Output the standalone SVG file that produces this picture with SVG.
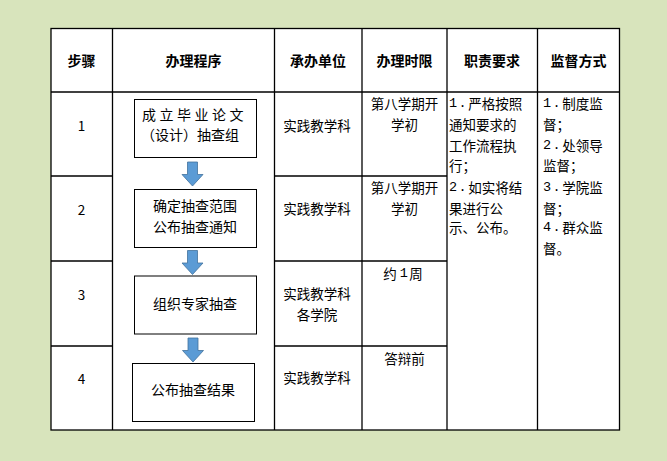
<svg xmlns="http://www.w3.org/2000/svg" xmlns:xlink="http://www.w3.org/1999/xlink" width="667" height="461" viewBox="0 0 667 461">
<style>
.t{font-family:"Noto Sans CJK SC","Noto Sans",sans-serif;font-size:13.5px;fill:#000;dominant-baseline:central}
.h{font-weight:bold;font-size:14px;text-anchor:middle}
.c{text-anchor:middle}
.m{font-family:"Liberation Mono",monospace;letter-spacing:1.5px}
.grid{stroke:#000;stroke-width:1.3;fill:none}
.box{fill:#fff;stroke:#000;stroke-width:1}
.arr{fill:#5b9bd5;stroke:#41719c;stroke-width:0.8}
</style>
<defs>
<path id="dn" d="M-5,0 H5 V12.5 H10.5 L0,24 L-10.5,12.5 H-5 Z"/>
</defs>
<rect x="0" y="0" width="667" height="461" fill="#d8e4bc"/>
<g id="table">
<rect x="51" y="28.5" width="568.5" height="401.5" fill="#fff"/>
<g class="grid">
<rect x="51" y="28.5" width="568.5" height="401.5"/>
<line x1="51" y1="92" x2="619.5" y2="92"/>
<line x1="112.5" y1="28.5" x2="112.5" y2="430"/>
<line x1="274.5" y1="28.5" x2="274.5" y2="430"/>
<line x1="362" y1="28.5" x2="362" y2="430"/>
<line x1="447" y1="28.5" x2="447" y2="430"/>
<line x1="537.5" y1="28.5" x2="537.5" y2="430"/>
<line x1="51" y1="176" x2="112.5" y2="176"/>
<line x1="274.5" y1="176" x2="447" y2="176"/>
<line x1="51" y1="261" x2="112.5" y2="261"/>
<line x1="274.5" y1="261" x2="447" y2="261"/>
<line x1="51" y1="346" x2="112.5" y2="346"/>
<line x1="274.5" y1="346" x2="447" y2="346"/>
</g>
<g id="header">
<text class="t h" x="81.5" y="60">步骤</text>
<text class="t h" x="193.5" y="60">办理程序</text>
<text class="t h" x="318" y="60">承办单位</text>
<text class="t h" x="404.5" y="60">办理时限</text>
<text class="t h" x="492" y="60">职责要求</text>
<text class="t h" x="578.5" y="60">监督方式</text>
</g>
<g id="steps">
<text class="t c" x="81.5" y="125">1</text>
<text class="t c" x="81.5" y="209">2</text>
<text class="t c" x="81.5" y="294">3</text>
<text class="t c" x="81.5" y="378">4</text>
</g>
<g id="units">
<text class="t c" x="317" y="124.5">实践教学科</text>
<text class="t c" x="317" y="208">实践教学科</text>
<text class="t c" x="317" y="293">实践教学科</text>
<text class="t c" x="317" y="313.5">各学院</text>
<text class="t c" x="317" y="377">实践教学科</text>
</g>
<g id="limits">
<text class="t c" x="404.5" y="102.5">第八学期开</text>
<text class="t c" x="404.5" y="124">学初</text>
<text class="t c" x="404.5" y="187">第八学期开</text>
<text class="t c" x="404.5" y="208">学初</text>
<text class="t c" x="403" y="272.5">约 <tspan class="m">1</tspan>周</text>
<text class="t c" x="404.5" y="357.5">答辩前</text>
</g>
<g id="duties">
<text class="t" x="449" y="102.5"><tspan class="m">1.</tspan>严格按照</text>
<text class="t" x="449" y="124">通知要求的</text>
<text class="t" x="449" y="144.5">工作流程执</text>
<text class="t" x="449" y="165">行；</text>
<text class="t" x="449" y="187"><tspan class="m">2.</tspan>如实将结</text>
<text class="t" x="449" y="208">果进行公</text>
<text class="t" x="449" y="227">示、公布。</text>
</g>
<g id="supervision">
<text class="t" x="543" y="102.5"><tspan class="m">1.</tspan>制度监</text>
<text class="t" x="543" y="124">督；</text>
<text class="t" x="543" y="144.5"><tspan class="m">2.</tspan>处领导</text>
<text class="t" x="543" y="165">监督；</text>
<text class="t" x="543" y="187"><tspan class="m">3.</tspan>学院监</text>
<text class="t" x="543" y="208">督；</text>
<text class="t" x="543" y="227"><tspan class="m">4.</tspan>群众监</text>
<text class="t" x="543" y="248">督。</text>
</g>
</g>
<g id="node1">
<rect class="box" x="134.5" y="99.5" width="122" height="58"/>
<text class="t c" x="194.5" y="114" style="font-size:14px;letter-spacing:3.5px">成立毕业论文</text>
<text class="t c" x="190" y="134" style="font-size:14px">（设计）抽查组</text>
</g>
<g id="node2">
<rect class="box" x="134.5" y="189.5" width="122" height="58"/>
<text class="t c" x="195" y="204.5" style="font-size:14px">确定抽查范围</text>
<text class="t c" x="195" y="225.5" style="font-size:14px">公布抽查通知</text>
</g>
<g id="node3">
<rect class="box" x="134.5" y="276" width="122" height="58"/>
<text class="t c" x="195" y="302.5" style="font-size:14px">组织专家抽查</text>
</g>
<g id="node4">
<rect class="box" x="132.5" y="363.5" width="122" height="58"/>
<text class="t c" x="193" y="388.5" style="font-size:14px">公布抽查结果</text>
</g>
<g id="connectors">
<use xlink:href="#dn" class="arr" transform="translate(192.5,162)"/>
<use xlink:href="#dn" class="arr" transform="translate(192.5,250.5)"/>
<use xlink:href="#dn" class="arr" transform="translate(193,338)"/>
</g>
</svg>
